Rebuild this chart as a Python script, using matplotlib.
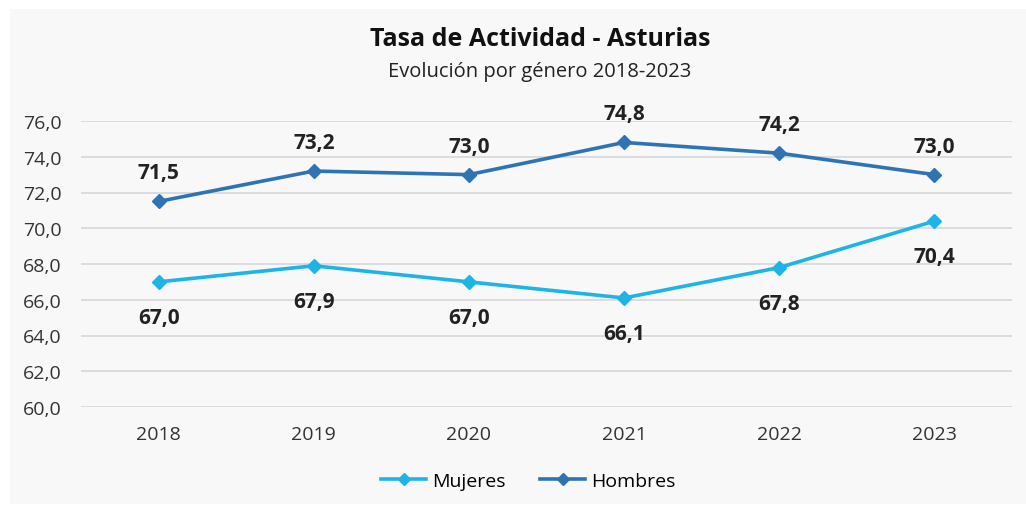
import matplotlib
matplotlib.use("Agg")
import matplotlib.pyplot as plt
from matplotlib.patches import Rectangle
from matplotlib.lines import Line2D

# ---------------------------------------------------------------------------
# Data
# ---------------------------------------------------------------------------
years = ["2018", "2019", "2020", "2021", "2022", "2023"]
mujeres = [67.0, 67.9, 67.0, 66.1, 67.8, 70.4]
hombres = [71.5, 73.2, 73.0, 74.8, 74.2, 73.0]
y_ticks = [60, 62, 64, 66, 68, 70, 72, 74, 76]

C_MUJ = "#1fb4e6"
C_HOM = "#2e74b5"
TXT = "#222222"
FONT = ["Open Sans", "DejaVu Sans"]

plt.rcParams["font.family"] = FONT


def fmt(v):
    return f"{v:.1f}".replace(".", ",")


fig = plt.figure(figsize=(10.26, 5.10), dpi=100)
fig.patch.set_facecolor("white")
fig.patches.append(Rectangle((10 / 1026, 0.01), 1.0, 1 - 10 / 510 - 0.01,
                             transform=fig.transFigure, facecolor="#f8f8f8",
                             edgecolor="none", zorder=-10))

ax = fig.add_axes([81 / 1026, 1 - 408 / 510, (1012 - 81) / 1026, (408 - 122) / 510])
ax.set_facecolor("none")
ax.set_zorder(1)

x = list(range(len(years)))
ax.plot(x, mujeres, color=C_MUJ, lw=2.6, marker="D", ms=7, zorder=3)
ax.plot(x, hombres, color=C_HOM, lw=2.6, marker="D", ms=7, zorder=3)

for i in x:
    ax.annotate(fmt(hombres[i]), (i, hombres[i]), xytext=(0, 13), textcoords="offset points",
                ha="center", va="bottom", fontsize=15, fontweight="bold", color=TXT)
    ax.annotate(fmt(mujeres[i]), (i, mujeres[i]), xytext=(0, -18), textcoords="offset points",
                ha="center", va="top", fontsize=15, fontweight="bold", color=TXT)

ax.set_xlim(-0.5, len(years) - 0.5)
ax.set_ylim(60, 76)
ax.set_yticks(y_ticks)
ax.set_yticklabels([fmt(v) for v in y_ticks])
ax.set_xticks(x)
ax.set_xticklabels(years)
ax.tick_params(axis="both", length=0, labelsize=14, colors="#333333")
ax.tick_params(axis="y", pad=14)
ax.tick_params(axis="x", pad=13)
ax.grid(axis="y", color="#d9d9d9", lw=1.3)
ax.set_axisbelow(True)
for s in ax.spines.values():
    s.set_visible(False)

fig.text(0.527, 1 - 40 / 510, "Tasa de Actividad - Asturias", ha="center", va="center",
         fontsize=18, fontweight="bold", color="#111111")
fig.text(0.526, 1 - 72 / 510, "Evolución por género 2018-2023", ha="center", va="center",
         fontsize=14.5, color="#222222")

handles = [Line2D([], [], color=C_MUJ, lw=2.6, marker="D", ms=6),
           Line2D([], [], color=C_HOM, lw=2.6, marker="D", ms=6)]
fig.legend(handles, ["Mujeres", "Hombres"], loc="center", bbox_to_anchor=(0.515, 1 - 482 / 510),
           ncol=2, frameon=False, fontsize=14, handlelength=2.3, columnspacing=1.8,
           handletextpad=0.3)

fig.savefig("out.png", dpi=100)
